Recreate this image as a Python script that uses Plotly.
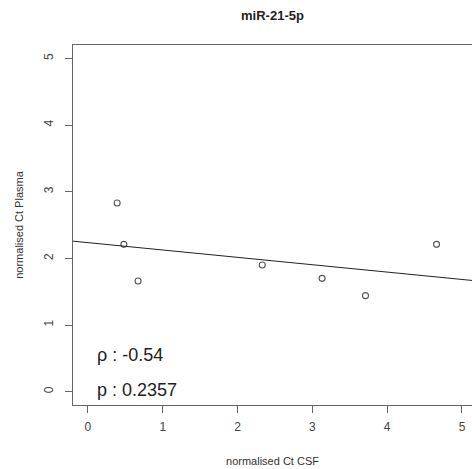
import numpy as np
import plotly.graph_objects as go

# Data
ct_csf = [0.39, 0.48, 0.67, 2.33, 3.13, 3.71, 4.66]
ct_plasma = [2.83, 2.21, 1.66, 1.90, 1.70, 1.44, 2.21]
x_ticks = [0, 1, 2, 3, 4, 5]
y_ticks = [0, 1, 2, 3, 4, 5]
title_text = "miR-21-5p"
rho_label = "ρ : -0.54"
p_label = "p : 0.2357"

x_range = [-0.2, 5.134]
y_range = [-0.2, 5.2]

slope, intercept = np.polyfit(ct_csf, ct_plasma, 1)
line_x = np.array(x_range)
line_y = intercept + slope * line_x

FONT = "Liberation Sans, Arial, sans-serif"
AXC = "#666666"

fig = go.Figure()
fig.add_trace(go.Scatter(
    x=ct_csf, y=ct_plasma, mode="markers",
    marker=dict(symbol="circle-open", size=6, color="#555555", line=dict(width=1.1)),
    showlegend=False, hoverinfo="skip"))
fig.add_trace(go.Scatter(
    x=line_x, y=line_y, mode="lines",
    line=dict(color="#222222", width=1), showlegend=False, hoverinfo="skip"))

fig.update_layout(
    width=472, height=469,
    margin=dict(l=73, r=0, t=45, b=64),
    paper_bgcolor="white", plot_bgcolor="white",
    font=dict(family=FONT, color="#444444"),
    title=dict(text="<b>" + title_text + "</b>", x=0.5, xref="paper",
               y=1 - 15/469, yanchor="middle",
               font=dict(size=13, color="#222222", family=FONT)),
    xaxis=dict(range=x_range, tickvals=x_ticks, showgrid=False, zeroline=False,
               showline=True, mirror=True, linecolor=AXC, linewidth=1.2,
               ticks="outside", ticklen=7, tickcolor=AXC, tickwidth=1,
               ticklabelstandoff=3,
               tickfont=dict(size=12, color="#444444"),
               title=dict(text="normalised Ct CSF", font=dict(size=11, color="#333333"), standoff=24)),
    yaxis=dict(range=y_range, tickvals=y_ticks, showgrid=False, zeroline=False,
               showline=True, mirror=False, linecolor=AXC, linewidth=1.2,
               ticks="outside", ticklen=7, tickcolor=AXC, tickwidth=1, tickangle=-90,
               ticklabelstandoff=7,
               tickfont=dict(size=12, color="#444444"),
               title=dict(text="normalised Ct Plasma", font=dict(size=11, color="#333333"), standoff=16)),
    annotations=[
        dict(text=rho_label, x=0.094, xref="x", y=1 - (355 - 45) / 360, yref="paper",
             xanchor="left", yanchor="middle", showarrow=False,
             font=dict(size=18, color="#222222", family=FONT)),
        dict(text=p_label, x=0.094, xref="x", y=1 - (390 - 45) / 360, yref="paper",
             xanchor="left", yanchor="middle", showarrow=False,
             font=dict(size=18, color="#222222", family=FONT)),
    ],
)

fig.write_html("out.html")
